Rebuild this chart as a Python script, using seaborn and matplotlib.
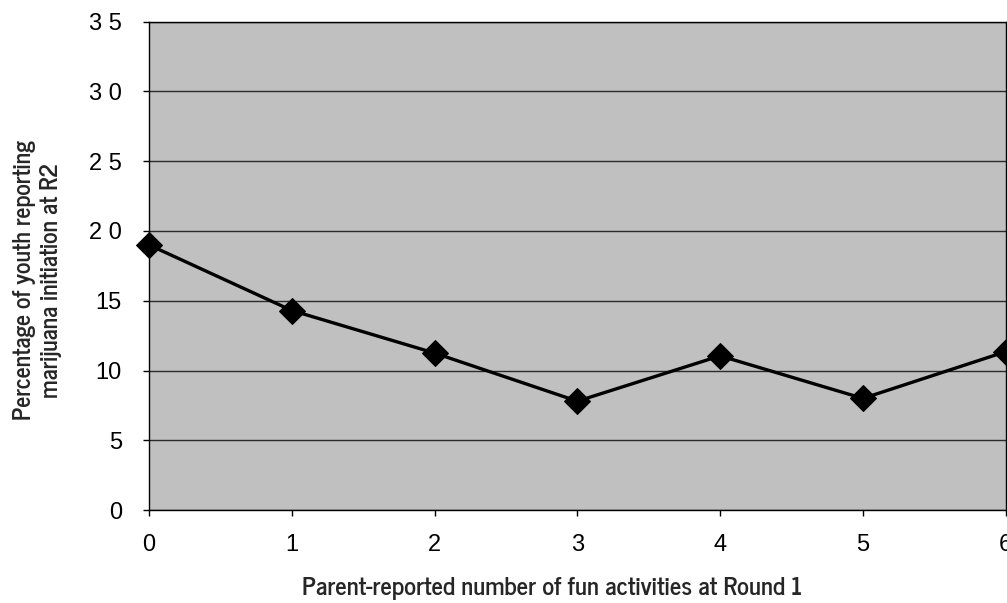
import matplotlib
matplotlib.use("Agg")
import matplotlib.pyplot as plt
import seaborn as sns
import pandas as pd

# --- dados ---
atividades = [0, 1, 2, 3, 4, 5, 6]
percentual = [19.0, 14.3, 11.25, 7.8, 11.05, 8.0, 11.35]
y_ticks = [0, 5, 10, 15, 20, 25, 30, 35]
y_tick_labels = ["0", "5", "10", "15", "2 0", "2 5", "3 0", "3 5"]

df = pd.DataFrame({"atividades": atividades, "percentual": percentual})

sns.set_theme(style="white")
plt.rcParams["font.family"] = ["Liberation Sans", "DejaVu Sans"]

fig = plt.figure(figsize=(10.07, 6.03), dpi=100)
ax = fig.add_axes([0.148, 0.1542, 0.8507, 0.8098])
ax.set_facecolor("#c0c0c0")

sns.lineplot(data=df, x="atividades", y="percentual", ax=ax,
             color="black", linewidth=2.4, marker="D", markersize=13.5,
             markeredgecolor="black", markerfacecolor="black", clip_on=False)

ax.set_xlim(0, 6)
ax.set_ylim(0, 35)
ax.set_yticks(y_ticks)
ax.set_yticklabels(y_tick_labels)
ax.set_xticks(atividades)
ax.yaxis.grid(True, color="#2a2a2a", linewidth=1.0)
ax.xaxis.grid(False)
ax.set_axisbelow(True)

for s in ax.spines.values():
    s.set_color("black")
    s.set_linewidth(1.0)

ax.tick_params(axis="both", direction="out", length=4.5, width=1, color="black",
               labelsize=17, labelcolor="black", left=True, bottom=True)
ax.tick_params(axis="y", pad=15)
ax.tick_params(axis="x", pad=13)

# fonte parecida com News Gothic nos rótulos dos eixos
fonte_rotulo = ["News Cycle", "Liberation Sans", "DejaVu Sans"]
ax.set_xlabel("Parent-reported number of fun activities at Round 1",
              fontsize=17.8, family=fonte_rotulo, fontweight="bold", va="center")
ax.set_ylabel("Percentage of youth reporting\nmarijuana initiation at R2",
              fontsize=17.2, family=fonte_rotulo, fontweight="bold", va="center")
ax.xaxis.set_label_coords(0.470, -0.160)
ax.yaxis.set_label_coords(-0.130, 0.471)

fig.savefig("out.png", dpi=100)
